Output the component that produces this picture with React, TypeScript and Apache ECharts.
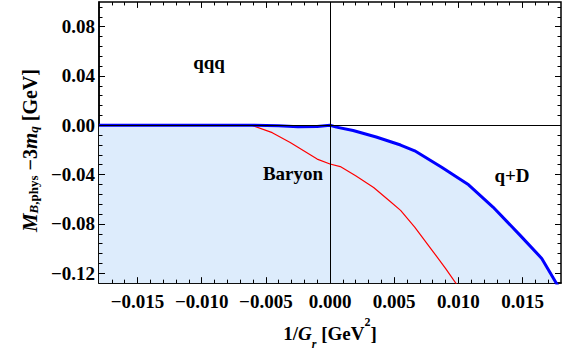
import React, { useEffect, useRef } from "react";
import * as echarts from "echarts";

// 1/G_r [GeV^2] versus binding energy M_B,phys - 3 m_q [GeV]
const boundaryX = [-0.018, -0.006, -0.004, -0.0025, -0.001, 0, 0.0005, 0.0018, 0.0036, 0.0055, 0.0066, 0.0087, 0.0108, 0.0127, 0.0148, 0.0165, 0.0178];
const boundaryY = [0, 0, -0.0003, -0.0012, -0.0009, 0, -0.0015, -0.0042, -0.0095, -0.016, -0.0207, -0.034, -0.0483, -0.0663, -0.0891, -0.108, -0.131];

const baryonX = [-0.018, -0.0061, -0.0045, -0.0031, -0.001, 0, 0.0008, 0.002, 0.0034, 0.0046, 0.0055, 0.0066, 0.008, 0.009, 0.01];
const baryonY = [0, 0, -0.006, -0.0139, -0.0274, -0.0314, -0.0335, -0.041, -0.0504, -0.061, -0.069, -0.0826, -0.102, -0.116, -0.131];

const xMajorTicks = [-0.015, -0.01, -0.005, 0, 0.005, 0.01, 0.015];
const yMajorTicks = [-0.12, -0.08, -0.04, 0, 0.04, 0.08];

const regionLabels = ["qqq", "Baryon", "q+D"];

const X_MIN = -0.018;
const X_MAX = 0.018;
const Y_MIN = -0.128;
const Y_MAX = 0.1;
const X_MINOR_STEP = 0.001;
const Y_MINOR_STEP = 0.008;

const FONT = "Liberation Serif";
const minus = (s: string) => s.replace("-", "\u2212");

// plot box in pixels, used to turn tick lengths into axis units
const GRID = { left: 99, right: 10, top: 2, bottom: 68 };
const W = 571 - GRID.left - GRID.right;
const H = 355 - GRID.top - GRID.bottom;
const pxX = (X_MAX - X_MIN) / W;
const pxY = (Y_MAX - Y_MIN) / H;

export default function App() {
  const ref = useRef<HTMLDivElement>(null);

  useEffect(() => {
    if (!ref.current) return;
    const chart = echarts.init(ref.current, undefined, { renderer: "svg" });

    const zip = (xs: number[], ys: number[]) => xs.map((x, i) => [x, ys[i]]);
    const boundary = zip(boundaryX, boundaryY);
    const baryon = zip(baryonX, baryonY);

    // frame ticks on all four sides, pointing inwards
    const isMajor = (v: number, majors: number[]) => majors.some((m) => Math.abs(m - v) < 1e-9);
    const tickSegs: any[] = [];
    const addX = (x: number, len: number) => {
      tickSegs.push([{ coord: [x, Y_MIN] }, { coord: [x, Y_MIN + len * pxY] }]);
      tickSegs.push([{ coord: [x, Y_MAX] }, { coord: [x, Y_MAX - len * pxY] }]);
    };
    const addY = (y: number, len: number) => {
      tickSegs.push([{ coord: [X_MIN, y] }, { coord: [X_MIN + len * pxX, y] }]);
      tickSegs.push([{ coord: [X_MAX, y] }, { coord: [X_MAX - len * pxX, y] }]);
    };
    for (let k = 1; X_MIN + k * X_MINOR_STEP < X_MAX - 1e-9; k++) {
      const x = +(X_MIN + k * X_MINOR_STEP).toFixed(6);
      addX(x, isMajor(x, xMajorTicks) ? 6 : 3.5);
    }
    for (let k = 1; Y_MIN + k * Y_MINOR_STEP < Y_MAX - 1e-9; k++) {
      const y = +(Y_MIN + k * Y_MINOR_STEP).toFixed(6);
      addY(y, isMajor(y, yMajorTicks) ? 6 : 3.5);
    }

    const labelFont = { fontFamily: FONT, fontWeight: "bold", fontSize: 19, color: "#000" };
    const frameLine = { show: true, onZero: false, lineStyle: { color: "#000", width: 1.5 } };

    const option: any = {
      animation: false,
      grid: { ...GRID, show: true, borderColor: "#000", borderWidth: 1.5, backgroundColor: "transparent" },
      xAxis: {
        type: "value", min: X_MIN, max: X_MAX, position: "bottom", splitLine: { show: false },
        axisLine: frameLine,
        axisTick: { show: false },
        axisLabel: { show: true, margin: 9, customValues: xMajorTicks, formatter: (v: number) => minus(v.toFixed(3)), ...labelFont },
        name: "{n|1/}{i|G}{sub|r}{n| [GeV}{sup|2}{n|]}",
        nameLocation: "middle",
        nameGap: 21,
        nameTextStyle: {
          rich: {
            n: { ...labelFont },
            i: { ...labelFont, fontStyle: "italic" },
            sub: { ...labelFont, fontSize: 12, fontStyle: "italic", verticalAlign: "bottom", lineHeight: 10 },
            sup: { ...labelFont, fontSize: 12, verticalAlign: "top", lineHeight: 34 },
          },
        },
      },
      yAxis: {
        type: "value", min: Y_MIN, max: Y_MAX, position: "left", splitLine: { show: false },
        axisLine: frameLine,
        axisTick: { show: false },
        axisLabel: { show: true, margin: 4, customValues: yMajorTicks, formatter: (v: number) => minus(v.toFixed(2)), ...labelFont },
        name: "{i|M}{subi|B}{sub|,phys}{n| \u22123}{i|m}{subi|q}{n| [GeV]}",
        nameLocation: "middle",
        nameGap: 59,
        nameRotate: 90,
        nameTextStyle: {
          padding: [0, 16, 0, 0],
          rich: {
            n: { ...labelFont, fontSize: 20 },
            i: { ...labelFont, fontSize: 21, fontStyle: "italic" },
            sub: { ...labelFont, fontSize: 13, verticalAlign: "bottom", lineHeight: 10 },
            subi: { ...labelFont, fontSize: 13, fontStyle: "italic", verticalAlign: "bottom", lineHeight: 10 },
          },
        },
      },
      series: [
        { name: "bound region", type: "line", data: boundary, showSymbol: false, lineStyle: { width: 0, opacity: 0 }, areaStyle: { color: "#ddecfc", origin: "start", opacity: 1 }, z: 1 },
        {
          name: "zero lines", type: "line", data: [],
          markLine: { silent: true, symbol: "none", label: { show: false }, lineStyle: { color: "#000", width: 1, type: "solid" }, data: [{ xAxis: 0 }, { yAxis: 0 }] },
          z: 2,
        },
        { name: "baryon", type: "line", data: baryon, showSymbol: false, lineStyle: { color: "#ff0000", width: 1.2 }, z: 3 },
        { name: "boundary", type: "line", data: boundary, showSymbol: false, lineStyle: { color: "#0000ff", width: 3 }, z: 4 },
        {
          name: "frame ticks", type: "line", data: [],
          markLine: { silent: true, symbol: "none", label: { show: false }, lineStyle: { color: "#000", width: 1, type: "solid" }, data: tickSegs },
          z: 5,
        },
      ],
      graphic: [
        { type: "text", x: 209, y: 62, style: { text: regionLabels[0], font: `bold 19px "${FONT}"`, fill: "#000", align: "center", verticalAlign: "middle" }, z: 10 },
        { type: "text", x: 293, y: 173, style: { text: regionLabels[1], font: `bold 19px "${FONT}"`, fill: "#000", align: "center", verticalAlign: "middle" }, z: 10 },
        { type: "text", x: 512, y: 175, style: { text: regionLabels[2], font: `bold 19px "${FONT}"`, fill: "#000", align: "center", verticalAlign: "middle" }, z: 10 },
      ],
    };

    chart.setOption(option);
    return () => chart.dispose();
  }, []);

  return <div ref={ref} style={{ width: 571, height: 355, position: "absolute", left: 0, top: 0 }} />;
}
